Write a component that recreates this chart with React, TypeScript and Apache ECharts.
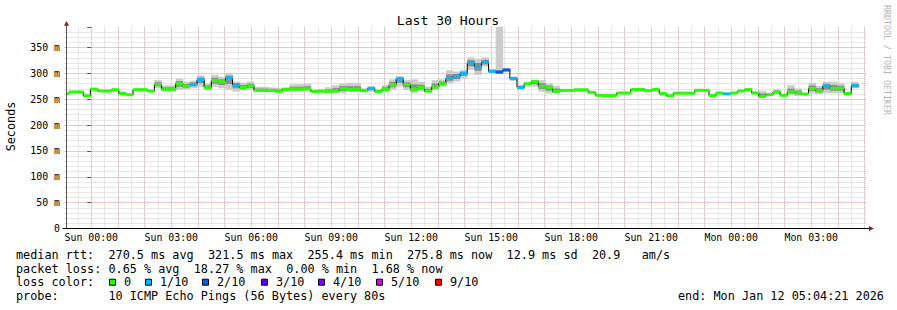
import React, { useEffect, useRef } from "react";
import * as echarts from "echarts";

// Time is expressed in minutes relative to Sun 00:00
const START_MIN = -55.65; // Sat 23:04:21
const END_MIN = 1744.35; // Mon 05:04:21
const AXIS_MIN = -60; // Sat 23:00 (grid begins here, plot data from START_MIN)
const FIRST_BUCKET_START = -66;
const BUCKET_MIN = 16;

const N = null;

// median rtt per 16-minute bucket (ms)
const median: (number | null)[] = [
  260.5, 264, 264, 256.5, 269.5, 266, 266, 268.4, 261, 258.5,
  268.5, 268.5, 265.8, 278.5, 269.5, 269.5, 279.8, 275.5, 278.5, 288,
  272.4, 286, 283.8, 291, 277.5, 272.5, 276, 267, 267, 267,
  265.5, 268.8, 269.3, 269.3, 270, 265.2, 265.5, 265, 266, 270.2,
  269, 269, 266.5, 270.5, 265, 269.3, 278, 289, 278.6, 269.3,
  272.5, 265.8, 273.8, 280, 290.2, 294.2, 300, 320.5, 313, 321.5,
  304, 302.3, 306.6, 289.8, 273, 280, 284, 275, 272, 265.3,
  267, 267, 268.3, 268.3, 263.2, 257.5, 257, 257, 262, 262,
  268.8, 268.8, 266.6, 269, 261, 256.6, 261.7, 261.7, 261.7, 267.2,
  267.2, 257, 262, 260.3, 262, 266, 268.6, 262.2, 255.4, 259,
  263.8, 257.5, 264.2, 262.5, 260, 271, 266.4, 275.6, 271, 271.3,
  261, 275.8, N, N,
];

// lost pings out of 10 per bucket (colour class)
const lossTenths: (number | null)[] = [
  0, 0, 0, 0, 0, 0, 0, 0, 0, 0,
  0, 0, 0, 0, 0, 0, 0, 0, 1, 1,
  0, 0, 0, 1, 1, 0, 0, 0, 0, 0,
  0, 0, 0, 0, 0, 0, 0, 0, 0, 0,
  0, 0, 0, 1, 0, 0, 0, 1, 0, 0,
  0, 0, 0, 0, 1, 1, 1, 1, 1, 1,
  1, 2, 2, 1, 1, 0, 0, 0, 0, 0,
  0, 0, 0, 0, 0, 0, 0, 0, 0, 0,
  0, 0, 0, 0, 0, 0, 0, 0, 0, 0,
  0, 0, 0, 1, 0, 0, 0, 0, 0, 0,
  0, 0, 0, 0, 0, 0, 0, 1, 0, 0,
  0, 1, N, N,
];

// smoke: fastest / slowest ping (outer) and inner spread (ms)
const smokeOuterLo: (number | null)[] = [
  N, N, N, N, N, N, N, N, N, N,
  N, N, N, 271, 264.6, 264.6, 268, 269, 271, 274,
  267.8, 274, 271, 268, 264.6, 267.8, 267.8, 264.6, 264.6, 264,
  263, 266, 267, 267, 267, 263, 263, 262, 262, 261.4,
  264.6, 264.6, 264, 264.6, 263.5, 262.7, 267.8, 274.2, 267.8, 261.4,
  264.6, 262.7, 267.8, 274.2, 280.6, 283.8, 290.3, 306.6, 297, 313,
  300, 299, 303, 285, 268, 276, 274, 264.6, 261, 261,
  N, N, N, N, N, N, N, N, N, N,
  N, N, N, N, N, N, N, N, N, N,
  N, N, N, N, N, N, N, N, 254, N,
  259, N, 258, 256, N, 261, 260, 261.4, 261.4, 261.4,
  N, 271, N, N,
];
const smokeOuterHi: (number | null)[] = [
  N, N, N, N, N, N, N, N, N, N,
  N, N, N, 287, 277, 277, 290, 284, 286, 296,
  280.6, 297, 293.5, 300, 284, 282, 284, 274, 274, 273,
  272, 273, 279, 279, 280, 268, 270, 273, 277, 280.6,
  281.9, 281.9, 271, 275.5, 269, 277.4, 288.4, 294.8, 287, 288.4,
  283.8, 274.2, 287, 288.4, 306, 303.5, 306.4, 331, 327.3, 331,
  308, 400, 310, 294, 277, 283, 288, 287, 280.6, 276,
  N, N, N, N, N, N, N, N, N, N,
  N, N, N, N, N, N, N, N, N, N,
  N, N, N, N, N, N, N, N, 266.5, N,
  269, N, 277, 271, N, 282, 276, 283.8, 283.8, 280.6,
  N, 283.8, N, N,
];
const smokeInnerLo: (number | null)[] = [
  N, N, N, N, N, N, N, N, N, N,
  N, N, N, 274.8, 267, 267, 274, 272.2, 274.8, 281,
  270, 280, 277.4, 279.5, 271, 270, 272, 265.8, 265.8, 265.5,
  264.2, 267.4, 268, 268, 268.5, 264, 264.2, 263.5, 264, 265.8,
  266.8, 266.8, 265.2, 267.5, 264.2, 266, 273, 281.6, 273.2, 265.4,
  268.6, 264.2, 270.8, 277, 285.4, 289, 295.2, 313.6, 305, 317.2,
  302, 300.6, 304.8, 287.4, 270.5, 278, 279, 269.8, 266.5, 263.2,
  N, N, N, N, N, N, N, N, N, N,
  N, N, N, N, N, N, N, N, N, N,
  N, N, N, N, N, N, N, N, 254.7, N,
  261.4, N, 261, 259.2, N, 266, 263.2, 268.5, 266.2, 266.4,
  N, 273.4, N, N,
];
const smokeInnerHi: (number | null)[] = [
  N, N, N, N, N, N, N, N, N, N,
  N, N, N, 282.8, 273.2, 273.2, 285, 279.8, 282.2, 292,
  276.5, 291.5, 288.6, 295.5, 280.8, 277.2, 280, 270.5, 270.5, 270,
  268.8, 271, 274, 274, 275, 266.6, 267.8, 269, 271.5, 275.4,
  275.4, 275.4, 268.8, 273, 267, 273.4, 283.2, 292, 282.8, 278.8,
  278, 270, 280.4, 284.2, 298, 298.8, 303.2, 325.8, 320, 326.2,
  306, 306, 308.3, 292, 275, 281.5, 286, 281, 276.3, 270.6,
  N, N, N, N, N, N, N, N, N, N,
  N, N, N, N, N, N, N, N, N, N,
  N, N, N, N, N, N, N, N, 261, N,
  266.4, N, 270.6, 266.8, N, 276.5, 271.2, 279.7, 277.4, 276,
  N, 279.8, N, N,
];

const lossClasses = [0, 1, 2, 3, 4, 5, 9];
const lossLabels = ["0", "1/10", "2/10", "3/10", "4/10", "5/10", "9/10"];
const lossColors = ["#26ff00", "#00b8ff", "#0059ff", "#5e00ff", "#7e00ff", "#dd00ff", "#ff0000"];

const xLabelValues = [0, 180, 360, 540, 720, 900, 1080, 1260, 1440, 1620];
const xLabelTexts = [
  "Sun 00:00", "Sun 03:00", "Sun 06:00", "Sun 09:00", "Sun 12:00",
  "Sun 15:00", "Sun 18:00", "Sun 21:00", "Mon 00:00", "Mon 03:00",
];
const yLabelValues = [0, 50, 100, 150, 200, 250, 300, 350];
const yLabelTexts = ["0", "50 m", "100 m", "150 m", "200 m", "250 m", "300 m", "350 m"];

const titleText = "Last 30 Hours";
const yAxisTitle = "Seconds";
const watermark = "RRDTOOL / TOBI OETIKER";
const legendRows: [number, string][][] = [
  [[0, "median rtt:"], [13, "270.5 ms avg"], [27, "321.5 ms max"], [41, "255.4 ms min"], [55, "275.8 ms now"], [69, "12.9 ms sd"], [81, "20.9"], [88, "am/s"]],
  [[0, "packet loss:"], [13, "0.65 % avg"], [25, "18.27 % max"], [38, "0.00 % min"], [50, "1.68 % now"]],
  [[0, "loss color:"]],
  [[0, "probe:"], [13, "10 ICMP Echo Pings (56 Bytes) every 80s"]],
];
const endText = "end: Mon Jan 12 05:04:21 2026";

const MONO = "DejaVu Sans Mono";

function colorForLoss(t: number | null): string {
  if (t == null) return lossColors[0];
  let idx = 0;
  for (let i = 0; i < lossClasses.length; i++) if (t >= lossClasses[i]) idx = i;
  return lossColors[idx];
}

export default function App() {
  const ref = useRef<HTMLDivElement>(null);
  useEffect(() => {
    if (!ref.current) return;
    const chart = echarts.init(ref.current, undefined, { renderer: "svg" });

    const items: any[] = [];
    median.forEach((m, i) => {
      if (m == null) return;
      const s = FIRST_BUCKET_START + i * BUCKET_MIN;
      items.push({ value: [s, s + BUCKET_MIN, m, i] });
    });

    const bucketPx = (api: any) => {
      const xs = Math.max(api.value(0), START_MIN);
      const xe = Math.min(api.value(1), END_MIN);
      return [api.coord([xs, 0])[0], api.coord([xe, 0])[0]];
    };

    const smokeRender = (params: any, api: any) => {
      const i = api.value(3);
      const cs = params.coordSys;
      const [p0, p1] = bucketPx(api);
      const children: any[] = [];
      const add = (lo: number | null, hi: number | null, fill: string) => {
        if (lo == null || hi == null) return;
        let yt = api.coord([0, hi])[1];
        let yb = api.coord([0, lo])[1];
        yt = Math.max(yt, cs.y);
        yb = Math.min(yb, cs.y + cs.height);
        children.push({ type: "rect", shape: { x: p0, y: yt, width: p1 - p0 + 0.4, height: yb - yt }, style: { fill } });
      };
      add(smokeOuterLo[i], smokeOuterHi[i], "#cccccc");
      add(smokeInnerLo[i], smokeInnerHi[i], "#8e8e8e");
      return { type: "group", children };
    };

    const lineRender = (params: any, api: any) => {
      const i = api.value(3);
      const [p0, p1] = bucketPx(api);
      const y = api.coord([0, api.value(2)])[1];
      const children: any[] = [
        { type: "line", shape: { x1: p0, y1: y, x2: p1, y2: y }, style: { stroke: "#000", lineWidth: 1 } },
      ];
      const next = median[i + 1];
      if (next != null) {
        const y2 = api.coord([0, next])[1];
        children.push({ type: "line", shape: { x1: p1, y1: y, x2: p1, y2: y2 }, style: { stroke: "#000", lineWidth: 1 } });
      }
      return { type: "group", children };
    };

    const bandRender = (params: any, api: any) => {
      const i = api.value(3);
      const [p0, p1] = bucketPx(api);
      const y = api.coord([0, api.value(2)])[1];
      return {
        type: "rect",
        shape: { x: p0, y: y - 1.5, width: p1 - p0 + 0.3, height: 3 },
        style: { fill: colorForLoss(lossTenths[i]) },
      };
    };

    const minorSplit = { show: true, showMinLine: false, showMaxLine: false, lineStyle: { color: "#d0d0d0", type: [1, 1], width: 1 } };
    const majorSplit = { show: true, showMinLine: false, showMaxLine: false, lineStyle: { color: "#f4a0a0", type: [1, 1], width: 1 } };

    const graphics: any[] = [];
    graphics.push({ type: "text", left: undefined, x: 448, y: 20, style: { text: titleText, font: `13.1px "${MONO}"`, fill: "#000", align: "center", verticalAlign: "middle" } });
    graphics.push({ type: "text", x: 11, y: 126.5, rotation: Math.PI / 2, style: { text: yAxisTitle, font: `11.8px "${MONO}"`, fill: "#000", align: "center", verticalAlign: "middle" } });
    graphics.push({ type: "text", x: 886.5, y: 60, rotation: -Math.PI / 2, style: { text: watermark, font: `8.3px "${MONO}"`, fill: "#b4b4b4", align: "center", verticalAlign: "middle" } });
    // axis lines and arrows
    graphics.push({ type: "line", shape: { x1: 66.5, y1: 228.5, x2: 66.5, y2: 25.5 }, style: { stroke: "#555", lineWidth: 1 } });
    graphics.push({ type: "line", shape: { x1: 62.5, y1: 228.5, x2: 869, y2: 228.5 }, style: { stroke: "#000", lineWidth: 1 } });
    graphics.push({ type: "polygon", shape: { points: [[64, 25.8], [69, 25.8], [66.5, 21]] }, style: { fill: "#8b1a1a" } });
    graphics.push({ type: "polygon", shape: { points: [[869, 226], [869, 231], [873.8, 228.5]] }, style: { fill: "#8b1a1a" } });

    const rowY = [254.8, 268.5, 282.2, 295.9];
    const CH = 7.11;
    legendRows.forEach((row, r) => {
      row.forEach(([col, txt]) => {
        graphics.push({ type: "text", x: 16 + col * CH, y: rowY[r], style: { text: txt, font: `11.8px "${MONO}"`, fill: "#000", align: "left", verticalAlign: "middle" } });
      });
    });
    const legendLabelX = [124, 160, 217, 276, 333, 391, 450];
    lossLabels.forEach((lab, k) => {
      const lx = legendLabelX[k];
      graphics.push({ type: "rect", shape: { x: lx - 14.5, y: rowY[2] - 3, width: 6, height: 6 }, style: { fill: lossColors[k], stroke: "#000", lineWidth: 1 } });
      graphics.push({ type: "text", x: lx, y: rowY[2], style: { text: lab, font: `11.8px "${MONO}"`, fill: "#000", align: "left", verticalAlign: "middle" } });
    });
    graphics.push({ type: "text", x: 678, y: rowY[3], style: { text: endText, font: `11.8px "${MONO}"`, fill: "#000", align: "left", verticalAlign: "middle" } });

    chart.setOption({
      animation: false,
      backgroundColor: "#ffffff",
      grid: { left: 64.57, right: 30.5, top: 26.8, bottom: 81.5 },
      xAxis: [
        {
          type: "value", min: AXIS_MIN, max: END_MIN, interval: 30, position: "bottom", z: 0,
          axisLine: { show: false }, axisTick: { show: false }, axisLabel: { show: false }, splitLine: minorSplit,
        },
        {
          type: "value", min: AXIS_MIN, max: END_MIN, interval: 60, position: "bottom", z: 1,
          axisLine: { show: false }, axisTick: { show: false },
          axisLabel: {
            show: true, margin: 3.5, color: "#000", fontFamily: MONO, fontSize: 9.9, lineHeight: 10,
            formatter: (v: number) => {
              const k = xLabelValues.indexOf(Math.round(v));
              return k >= 0 && Math.abs(v - Math.round(v)) < 1e-6 ? xLabelTexts[k] : "";
            },
          },
          splitLine: majorSplit,
        },
      ],
      yAxis: [
        {
          type: "value", min: 0, max: 390, interval: 10, position: "left", z: 0,
          axisLine: { show: false }, axisTick: { show: false }, axisLabel: { show: false }, splitLine: minorSplit,
        },
        {
          type: "value", min: 0, max: 390, interval: 50, position: "left", offset: -1.93, z: 1,
          axisLine: { show: false },
          axisTick: { show: true, length: 4, lineStyle: { color: "#555" } },
          axisLabel: {
            show: true, margin: 6.5, color: "#000", fontFamily: MONO, fontSize: 9.9,
            formatter: (v: number) => {
              const k = yLabelValues.indexOf(v);
              return k >= 0 ? yLabelTexts[k] : "";
            },
          },
          splitLine: majorSplit,
        },
      ],
      series: [
        { type: "custom", z: 2, renderItem: smokeRender, data: items, encode: { x: [0, 1], y: 2 }, silent: true },
        { type: "custom", z: 3, renderItem: lineRender, data: items, encode: { x: [0, 1], y: 2 }, silent: true },
        { type: "custom", z: 4, renderItem: bandRender, data: items, encode: { x: [0, 1], y: 2 }, silent: true },
      ],
      graphic: { elements: graphics.map((g) => ({ ...g, z: 10 })) },
    });
    return () => chart.dispose();
  }, []);
  return (
    <div
      ref={ref}
      style={{ position: "absolute", left: 0, top: 0, width: 897, height: 310, background: "#fff" }}
    />
  );
}
